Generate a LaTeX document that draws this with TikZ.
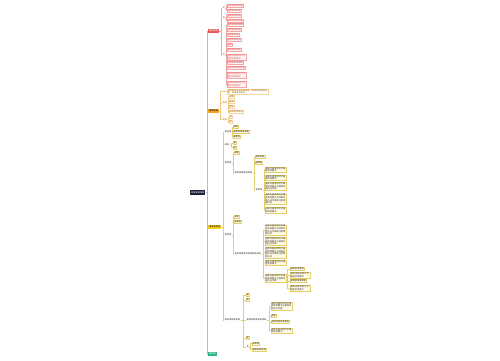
\documentclass[tikz,border=0pt]{standalone}
\usepackage{fontspec}
\newfontfamily\cjk{Noto Sans CJK SC}
\XeTeXlinebreaklocale "zh"
\XeTeXlinebreakskip=0pt plus 0.5pt
\definecolor{rootc}{HTML}{1E1E3C}
\definecolor{redc}{HTML}{E85656}
\definecolor{redl}{HTML}{F2A6A6}
\definecolor{redfill}{HTML}{FFF3F3}
\definecolor{orc}{HTML}{F5A623}
\definecolor{orl}{HTML}{F3C37A}
\definecolor{ortx}{HTML}{B0700A}
\definecolor{yec}{HTML}{F7D21E}
\definecolor{yel}{HTML}{E6CF6A}
\definecolor{yefill}{HTML}{FFFBE6}
\definecolor{grc}{HTML}{2DB38A}
\definecolor{grl}{HTML}{8FD3C3}
\newcommand\mmlink[4]{\foreach \mmc in {#4}{\draw[#1] (#2.east) -- ++(#3,0) |- (\mmc.west);}}
\newcommand\mmtwo{相关内容说明文字描述及其要点}
\newcommand\mmthree{相关内容说明文字描述及其要点与具体实施方法步骤}
\newcommand\mmfour{相关内容说明文字描述及其要点与具体实施方法步骤和注意事项以及}
\begin{document}
\begin{tikzpicture}[x=1pt,y=-1pt,
  every node/.style={font=\cjk\fontsize{2.2}{2.6}\selectfont,inner sep=0.4pt,anchor=west},
  rootbox/.style={fill=rootc,text=white,minimum height=4.5pt,inner xsep=1pt},
  redbox/.style={fill=redc,text=white,minimum height=4pt,inner xsep=1pt},
  orbox/.style={fill=orc,text=black,minimum height=4pt,inner xsep=1pt},
  yebox/.style={fill=yec,text=black,minimum height=4pt,inner xsep=1pt},
  grbox/.style={fill=grc,text=white,minimum height=4pt,inner xsep=1pt},
  rlab/.style={text=redc},
  rleaf/.style={draw=redl,fill=redfill,text=redc,line width=0.2pt,align=left},
  olab/.style={text=ortx},
  oleaf/.style={draw=orl!70,fill=white,text=ortx,line width=0.2pt,align=left},
  ylab/.style={text=black!80},
  yleaf/.style={draw=yel,fill=yefill,text=black!80,line width=0.2pt,align=left},
  lr/.style={draw=redl,line width=0.35pt},
  lo/.style={draw=orl,line width=0.35pt},
  ly/.style={draw=yel,line width=0.35pt},
  lg/.style={draw=grl,line width=0.45pt},
  lrt/.style={draw=redl,line width=0.45pt}]
\useasboundingbox (0,0) rectangle (500,360);

% root and main branches
\node[rootbox] (root) at (190,192.5) {某某某某某某};
\node[redbox] (R) at (208,31) {某某某某};
\node[orbox] (O) at (208,111) {某某某某};
\node[yebox] (Y) at (208,227) {某某某某某};
\node[grbox] (G) at (208,354) {某某某};
\draw[lo] (root.east) -- ++(1.5,0) |- (O.west);
\draw[ly] (root.east) -- ++(1.5,0) |- (Y.west);
\draw[lrt] (root.east) -- ++(1.5,0) |- (R.west);
\draw[lg] (root.east) -- ++(1.5,0) |- (G.west);

% red branch
\node[rlab] (R1) at (222,8) {某};
\node[rleaf] (R1a) at (227,5.5) {某某某某某某某};
\node[rleaf] (R1b) at (227,10.5) {某某某某某某};
\node[rlab] (R2) at (222,18) {某};
\node[rleaf] (R2a) at (227,15.5) {某某某某某某};
\node[rleaf] (R2b) at (227,20.5) {某某某某某某某};
\node[rlab] (R3) at (222,55) {某};
\node[rleaf] (R3a) at (227,25) {某某某某某某某};
\node[rleaf] (R3b) at (227,30) {某某某某某某};
\node[rleaf] (R3c) at (227,35) {某某某某某};
\node[rleaf] (R3d) at (227,40) {某某某某某某};
\node[rleaf] (R3e) at (227,45) {某某};
\node[rleaf] (R3f) at (227,50) {某某某某某某};
\node[rleaf,text width=18pt] (R3g) at (227,57) {\mmtwo};
\node[rleaf] (R3h) at (227,63) {某某某某某某某};
\node[rleaf] (R3i) at (227,68) {某某某某某某某某};
\node[rleaf,text width=18pt] (R3j) at (227,75) {\mmtwo};
\node[rleaf,text width=18pt] (R3k) at (227,84) {\mmtwo};
\mmlink{lr}{R}{1.5}{R1,R2,R3}
\mmlink{lr}{R1}{1}{R1a,R1b}
\mmlink{lr}{R2}{1}{R2a,R2b}
\mmlink{lr}{R3}{1}{R3a,R3b,R3c,R3d,R3e,R3f,R3g,R3h,R3i,R3j,R3k}

% orange branch
\node[oleaf,text width=40pt] (O0) at (227,91.5) {某某某某某某某某某某（某某某某某某某某）某某某某某某};
\node[olab] (O1) at (222,103) {某某};
\node[oleaf] (O1a) at (229,97) {某某};
\node[oleaf] (O1b) at (229,101.5) {某某};
\node[oleaf] (O1c) at (229,106.5) {某某};
\node[oleaf] (O1d) at (229,112) {某某某某某某};
\node[olab] (O2) at (222,119.5) {某某};
\node[oleaf] (O2a) at (229,117) {某};
\node[oleaf] (O2b) at (229,122) {某};
\mmlink{lo}{O}{1.2}{O0,O1,O2}
\mmlink{lo}{O1}{0.8}{O1a,O1b,O1c,O1d}
\mmlink{lo}{O2}{0.8}{O2a,O2b}

% yellow branch
\node[ylab] (Y1) at (224,132) {某某某};
\node[yleaf] (Y1a) at (233,127) {某某};
\node[yleaf] (Y1b) at (233,132) {某某某某某某某};
\node[yleaf] (Y1c) at (233,137) {某某某};
\node[ylab] (Y2) at (224,145) {某某};
\node[yleaf] (Y2a) at (233,143) {某};
\node[yleaf] (Y2b) at (233,147.5) {某};
\node[ylab] (Y3) at (224,163) {某某某};
\node[yleaf] (Y3a) at (234,153) {某某};
\node[ylab] (Y3b) at (234,173) {某某某某某某某某};
\node[yleaf] (Y3b1) at (255,157) {某某某某};
\node[yleaf] (Y3b2) at (255,163) {某某某};
\node[ylab] (Y3c) at (255,190) {某某某};
\node[yleaf,text width=20pt] (Y3c1) at (265,169.5) {\mmtwo};
\node[yleaf,text width=20pt] (Y3c2) at (265,177.5) {\mmtwo};
\node[yleaf,text width=20pt] (Y3c3) at (265,186.5) {\mmthree};
\node[yleaf,text width=20pt] (Y3c4) at (265,199) {\mmfour};
\node[yleaf,text width=20pt] (Y3c5) at (265,210) {\mmtwo};
\node[ylab] (Y4) at (224,235) {某某某};
\node[yleaf] (Y4a) at (234,217) {某某};
\node[yleaf] (Y4b) at (234,222) {某某某};
\node[ylab] (Y4c) at (234,254) {某某某某某某某某某某某某};
\node[yleaf,text width=20pt] (Y4c1) at (265,230) {\mmfour};
\node[yleaf,text width=20pt] (Y4c2) at (265,241.5) {\mmthree};
\node[yleaf,text width=20pt] (Y4c3) at (265,252.5) {\mmfour};
\node[yleaf,text width=20pt] (Y4c4) at (265,262.5) {\mmtwo};
\node[yleaf,text width=20pt] (Y4d) at (265,278.5) {\mmthree};
\node[yleaf] (Y4d1) at (290,269) {某某某某某某};
\node[yleaf,text width=19pt] (Y4d2) at (290,275) {\mmtwo};
\node[yleaf] (Y4d3) at (290,281) {某某某某某某某};
\node[yleaf,text width=19pt] (Y4d4) at (290,288) {\mmtwo};
\node[ylab] (Y5) at (224,320) {某某某某某某某};
\node[yleaf] (Y5a) at (246,295) {某};
\node[yleaf] (Y5b) at (246,300) {某};
\node[ylab] (Y5c) at (246,320) {某某某某某某某某某};
\node[yleaf,text width=20pt] (Y5c1) at (271,306) {\mmthree};
\node[yleaf] (Y5c2) at (271,316) {某某};
\node[yleaf] (Y5c3) at (271,322) {某某某某某某某某};
\node[yleaf,text width=20pt] (Y5c4) at (271,330.5) {\mmtwo};
\node[yleaf] (Y5d) at (246,338) {某};
\node[ylab] (Y5e) at (246,347) {某};
\node[yleaf] (Y5e1) at (252,343.5) {某某某};
\node[yleaf] (Y5e2) at (252,349.5) {某某某某某某};
\mmlink{ly}{Y}{1.5}{Y1,Y2,Y3,Y4,Y5}
\mmlink{ly}{Y1}{0.8}{Y1a,Y1b,Y1c}
\mmlink{ly}{Y2}{1.5}{Y2a,Y2b}
\mmlink{ly}{Y3}{1}{Y3a,Y3b}
\mmlink{ly}{Y3b}{1}{Y3b1,Y3b2,Y3c}
\mmlink{ly}{Y3c}{1.5}{Y3c1,Y3c2,Y3c3,Y3c4,Y3c5}
\mmlink{ly}{Y4}{1}{Y4a,Y4b,Y4c}
\mmlink{ly}{Y4c}{1.5}{Y4c1,Y4c2,Y4c3,Y4c4,Y4d}
\mmlink{ly}{Y4d}{1.5}{Y4d1,Y4d2,Y4d3,Y4d4}
\mmlink{ly}{Y5}{2.5}{Y5a,Y5b,Y5c,Y5d,Y5e}
\mmlink{ly}{Y5c}{2}{Y5c1,Y5c2,Y5c3,Y5c4}
\mmlink{ly}{Y5e}{1.2}{Y5e1,Y5e2}
\end{tikzpicture}
\end{document}
